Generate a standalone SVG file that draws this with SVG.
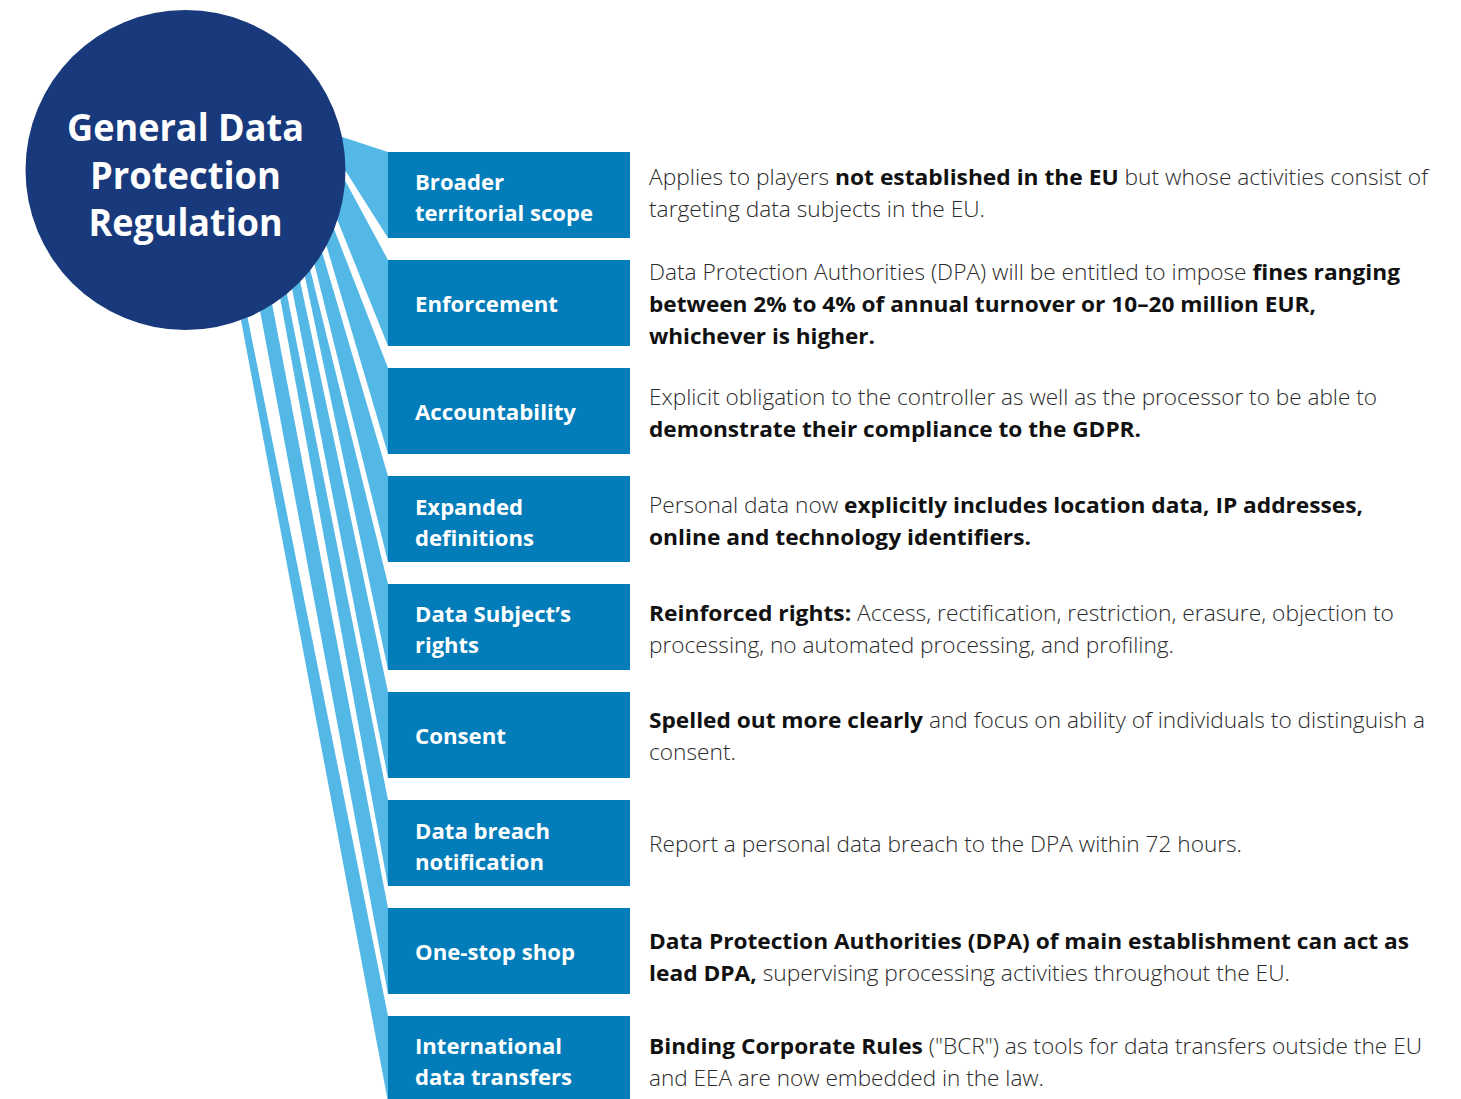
<svg xmlns="http://www.w3.org/2000/svg" width="1461" height="1099" viewBox="0 0 1461 1099">
<style>
.band{fill:#54b8e7}
.box{fill:#027dba}
.lbl{font-family:"Open Sans","Liberation Sans",sans-serif;font-weight:700;font-size:22px;fill:#ffffff}
.title{font-family:"Open Sans","Liberation Sans",sans-serif;font-weight:700;font-size:38px;fill:#ffffff}
.d{font-family:"Open Sans","Liberation Sans",sans-serif;font-weight:300;font-size:22px;fill:#2b2b2b}
.b{font-weight:700;fill:#111111}
</style>
<rect width="1461" height="1099" fill="#ffffff"/>
<g id="connectors">
<polygon class="band" points="341.5,136.7 388,152 388,238 345,170"/>
<polygon class="band" points="344.7,179.8 388,260 388,346 337.2,219.4"/>
<polygon class="band" points="333.9,228.6 388,368 388,454 326.3,245.1"/>
<polygon class="band" points="322.2,252.4 388,476 388,562 314.4,264"/>
<polygon class="band" points="310.2,269.6 388,584 388,670 304.8,276"/>
<polygon class="band" points="300.1,281.2 388,692 388,778 292.1,288.9"/>
<polygon class="band" points="286.8,293.5 388,800 388,886 280.2,298.6"/>
<polygon class="band" points="272.1,304.2 388,908 388,994 260.1,311.3"/>
<polygon class="band" points="247.5,317.3 388,1016 388,1102 241,319.9"/>
</g>
<g id="gdpr">
<circle cx="185.5" cy="170" r="160" fill="#18397b"/>
<text class="title" text-anchor="middle" x="185.5" y="141" textLength="237" lengthAdjust="spacingAndGlyphs">General Data</text>
<text class="title" text-anchor="middle" x="185.5" y="189" textLength="191" lengthAdjust="spacingAndGlyphs">Protection</text>
<text class="title" text-anchor="middle" x="185.5" y="236" textLength="194" lengthAdjust="spacingAndGlyphs">Regulation</text>
</g>
<g id="n1">
<rect class="box" x="388" y="152" width="242" height="86"/>
<text class="lbl" x="415" y="190" textLength="89" lengthAdjust="spacingAndGlyphs">Broader</text>
<text class="lbl" x="415" y="221" textLength="178" lengthAdjust="spacingAndGlyphs">territorial scope</text>
<text class="d" x="649" y="185" textLength="779" lengthAdjust="spacingAndGlyphs">Applies to players <tspan class="b">not established in the EU</tspan> but whose activities consist of</text>
<text class="d" x="649" y="217" textLength="336" lengthAdjust="spacingAndGlyphs">targeting data subjects in the EU.</text>
</g>
<g id="n2">
<rect class="box" x="388" y="260" width="242" height="86"/>
<text class="lbl" x="415" y="312" textLength="143" lengthAdjust="spacingAndGlyphs">Enforcement</text>
<text class="d" x="649" y="280" textLength="751" lengthAdjust="spacingAndGlyphs">Data Protection Authorities (DPA) will be entitled to impose <tspan class="b">fines ranging</tspan></text>
<text class="d b" x="649" y="312" textLength="667" lengthAdjust="spacingAndGlyphs">between 2% to 4% of annual turnover or 10–20 million EUR,</text>
<text class="d b" x="649" y="344" textLength="226" lengthAdjust="spacingAndGlyphs">whichever is higher.</text>
</g>
<g id="n3">
<rect class="box" x="388" y="368" width="242" height="86"/>
<text class="lbl" x="415" y="420" textLength="161" lengthAdjust="spacingAndGlyphs">Accountability</text>
<text class="d" x="649" y="405" textLength="728" lengthAdjust="spacingAndGlyphs">Explicit obligation to the controller as well as the processor to be able to</text>
<text class="d b" x="649" y="437" textLength="492" lengthAdjust="spacingAndGlyphs">demonstrate their compliance to the GDPR.</text>
</g>
<g id="n4">
<rect class="box" x="388" y="476" width="242" height="86"/>
<text class="lbl" x="415" y="515" textLength="108" lengthAdjust="spacingAndGlyphs">Expanded</text>
<text class="lbl" x="415" y="546" textLength="119" lengthAdjust="spacingAndGlyphs">definitions</text>
<text class="d" x="649" y="513" textLength="714" lengthAdjust="spacingAndGlyphs">Personal data now <tspan class="b">explicitly includes location data, IP addresses,</tspan></text>
<text class="d b" x="649" y="545" textLength="382" lengthAdjust="spacingAndGlyphs">online and technology identifiers.</text>
</g>
<g id="n5">
<rect class="box" x="388" y="584" width="242" height="86"/>
<text class="lbl" x="415" y="622" textLength="156" lengthAdjust="spacingAndGlyphs">Data Subject’s</text>
<text class="lbl" x="415" y="653" textLength="64" lengthAdjust="spacingAndGlyphs">rights</text>
<text class="d" x="649" y="621" textLength="745" lengthAdjust="spacingAndGlyphs"><tspan class="b">Reinforced rights:</tspan> Access, rectification, restriction, erasure, objection to</text>
<text class="d" x="649" y="653" textLength="525" lengthAdjust="spacingAndGlyphs">processing, no automated processing, and profiling.</text>
</g>
<g id="n6">
<rect class="box" x="388" y="692" width="242" height="86"/>
<text class="lbl" x="415" y="744" textLength="91" lengthAdjust="spacingAndGlyphs">Consent</text>
<text class="d" x="649" y="728" textLength="776" lengthAdjust="spacingAndGlyphs"><tspan class="b">Spelled out more clearly</tspan> and focus on ability of individuals to distinguish a</text>
<text class="d" x="649" y="760" textLength="87" lengthAdjust="spacingAndGlyphs">consent.</text>
</g>
<g id="n7">
<rect class="box" x="388" y="800" width="242" height="86"/>
<text class="lbl" x="415" y="839" textLength="135" lengthAdjust="spacingAndGlyphs">Data breach</text>
<text class="lbl" x="415" y="870" textLength="129" lengthAdjust="spacingAndGlyphs">notification</text>
<text class="d" x="649" y="852" textLength="593" lengthAdjust="spacingAndGlyphs">Report a personal data breach to the DPA within 72 hours.</text>
</g>
<g id="n8">
<rect class="box" x="388" y="908" width="242" height="86"/>
<text class="lbl" x="415" y="960" textLength="160" lengthAdjust="spacingAndGlyphs">One-stop shop</text>
<text class="d b" x="649" y="949" textLength="760" lengthAdjust="spacingAndGlyphs">Data Protection Authorities (DPA) of main establishment can act as</text>
<text class="d" x="649" y="981" textLength="641" lengthAdjust="spacingAndGlyphs"><tspan class="b">lead DPA,</tspan> supervising processing activities throughout the EU.</text>
</g>
<g id="n9">
<rect class="box" x="388" y="1016" width="242" height="86"/>
<text class="lbl" x="415" y="1054" textLength="147" lengthAdjust="spacingAndGlyphs">International</text>
<text class="lbl" x="415" y="1085" textLength="157" lengthAdjust="spacingAndGlyphs">data transfers</text>
<text class="d" x="649" y="1054" textLength="773" lengthAdjust="spacingAndGlyphs"><tspan class="b">Binding Corporate Rules</tspan> ("BCR") as tools for data transfers outside the EU</text>
<text class="d" x="649" y="1086" textLength="395" lengthAdjust="spacingAndGlyphs">and EEA are now embedded in the law.</text>
</g>
</svg>
